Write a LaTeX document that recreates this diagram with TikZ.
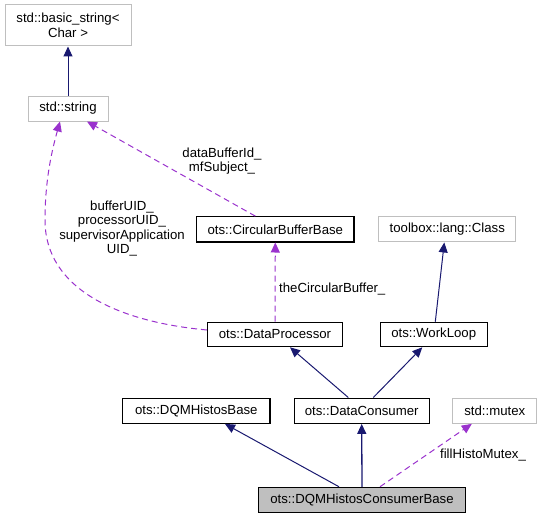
\documentclass[tikz,border=0pt]{standalone}
\usepackage{fontspec}
\setmainfont{Liberation Sans}
\usetikzlibrary{arrows.meta}
\definecolor{navy}{HTML}{191970}
\definecolor{orchid}{HTML}{9A32CD}
\definecolor{graybd}{HTML}{BFBFBF}
\begin{document}
\begin{tikzpicture}[x=1pt,y=-1pt,
  lbl/.style={font=\fontsize{13.2}{14.5}\selectfont, align=center, inner sep=0},
  cls/.style={lbl, draw=black, line width=1.1pt, fill=white},
  ext/.style={cls, draw=graybd, line width=1pt},
  inh/.style={draw=navy, line width=1pt, -{Triangle[length=10pt,width=9pt]}},
  use/.style={draw=orchid, line width=1pt, dash pattern=on 6pt off 4pt, -{Triangle[length=10pt,width=9pt]}}]
\useasboundingbox (0,0) rectangle (543,519);
\node[ext, minimum width=126pt, minimum height=41pt] (bs) at (68,25.5) {std::basic\_string<\\Char >};
\node[ext, minimum width=80pt, minimum height=25pt] (str) at (68,108.5) {std::string};
\node[cls, minimum width=157.3pt, minimum height=25.3pt] (cbb) at (275.3,229.3) {ots::CircularBufferBase};
\node[ext, minimum width=137.3pt, minimum height=25.3pt] (tlc) at (447.3,229.3) {toolbox::lang::Class};
\node[cls, minimum width=135pt, minimum height=24.5pt] (dp) at (275,334.5) {ots::DataProcessor};
\node[cls, minimum width=106.7pt, minimum height=24.5pt] (wl) at (433.7,334.5) {ots::WorkLoop};
\node[cls, minimum width=147.3pt, minimum height=25.3pt] (dhb) at (196.3,410.7) {ots::DQMHistosBase};
\node[cls, minimum width=134.7pt, minimum height=25.3pt] (dc) at (361.7,410.7) {ots::DataConsumer};
\node[ext, minimum width=84.3pt, minimum height=25.3pt] (mtx) at (494.8,410.7) {std::mutex};
\node[cls, fill=graybd, minimum width=206.6pt, minimum height=25pt] (hcb) at (362,499.8) {ots::DQMHistosConsumerBase};

\draw[inh] (str.north) -- (bs.south);
\draw[use] ([xshift=-20pt]cbb.north) -- ([xshift=19pt]str.south);
\draw[use] ([yshift=4.5pt]dp.west) .. controls (120,322) and (45,290) .. (45,220)
  .. controls (45,180) and (52,150) .. ([xshift=-8pt]str.south);
\draw[use] (dp.north) -- (cbb.south);
\draw[inh] ([xshift=1.6pt]wl.north) -- ([xshift=-3pt]tlc.south);
\draw[inh] ([xshift=-13.4pt]dc.north) -- ([xshift=15pt]dp.south);
\draw[inh] ([xshift=11.6pt]dc.north) -- ([xshift=-11.4pt]wl.south);
\draw[inh] ([xshift=-23pt]hcb.north) -- ([xshift=28.7pt]dhb.south);
\draw[inh, line width=1.3pt] (hcb.north) -- (dc.south);
\draw[use] ([xshift=18pt]hcb.north) -- ([xshift=-23pt]mtx.south);

\node[lbl] (l1) at (222,161) {dataBufferId\_\\mfSubject\_};
\node[lbl] (l2) at (122,228.5) {bufferUID\_\\processorUID\_\\supervisorApplication\\UID\_};
\node[lbl, anchor=west] (l3) at (279,289) {theCircularBuffer\_};
\node[lbl] (l4) at (483,455) {fillHistoMutex\_};
\end{tikzpicture}
\end{document}
